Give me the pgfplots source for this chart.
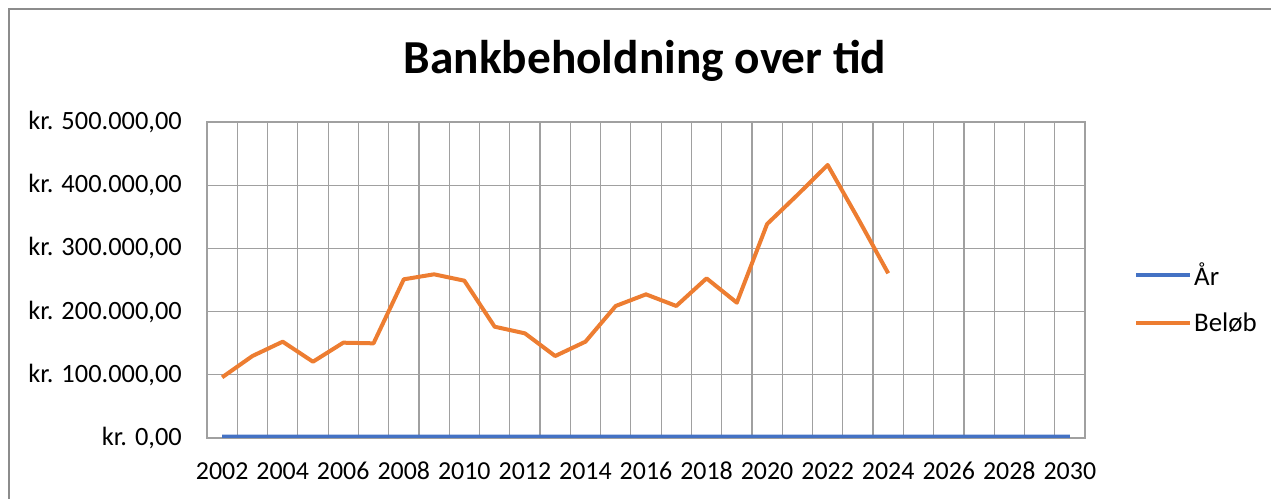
\documentclass[border=0pt]{standalone}
\usepackage{pgfplots}
\pgfplotsset{compat=1.18}
\usepackage{fontspec}
\setmainfont{Carlito}
\definecolor{exblue}{HTML}{4472C4}
\definecolor{exorange}{HTML}{ED7D31}
\definecolor{gridgray}{RGB}{160,160,160}
\definecolor{bordergray}{RGB}{140,140,140}
\begin{document}
\begin{tikzpicture}
\useasboundingbox (0,0) rectangle (1271bp,499bp);
\draw[bordergray, line width=1.3bp] (9bp,0) -- (9bp,490bp) -- (1271bp,490bp);
\node[anchor=base, font=\bfseries\fontsize{47.5}{52}\selectfont] at (645bp,425bp) {Bankbeholdning over tid};
\begin{axis}[
  at={(207bp,61bp)}, anchor=south west,
  scale only axis, width=878bp, height=316bp,
  xmin=2001.5, xmax=2030.5,
  ymin=0, ymax=500000,
  scaled y ticks=false,
  xtick={2002,2004,...,2030},
  xticklabels={2002,2004,2006,2008,2010,2012,2014,2016,2018,2020,2022,2024,2026,2028,2030},
  minor xtick={2001.5,2002.5,...,2030.5},
  xminorgrids=true, ymajorgrids=true, xmajorgrids=false,
  ytick={0,100000,200000,300000,400000,500000},
  yticklabels={{kr. 0,00},{kr. 100.000,00},{kr. 200.000,00},{kr. 300.000,00},{kr. 400.000,00},{kr. 500.000,00}},
  major tick length=0pt, minor tick length=0pt,
  tick label style={inner sep=0pt},
  yticklabel style={font=\fontsize{26.5}{30}\selectfont, anchor=east, xshift=-25bp},
  xticklabel style={font=\fontsize{26}{30}\selectfont, anchor=north, yshift=-24bp},
  axis line style={gridgray, line width=1.2bp},
  grid style={gridgray, line width=1.2bp},
  minor grid style={gridgray, line width=1.2bp},
  legend style={at={(1.0558,0.443)}, anchor=west, draw=none, fill=none, inner sep=0pt,
    font=\fontsize{27}{30}\selectfont, row sep=22bp,
    legend cell align=left},
  legend image code/.code={\draw[#1, line width=4bp] (0bp,0bp) -- (54bp,0bp);},
]
\addplot[exblue, line width=4bp] coordinates {
(2002,2002) (2003,2003) (2004,2004) (2005,2005) (2006,2006) (2007,2007) (2008,2008) (2009,2009) (2010,2010) (2011,2011)
(2012,2012) (2013,2013) (2014,2014) (2015,2015) (2016,2016) (2017,2017) (2018,2018) (2019,2019) (2020,2020) (2021,2021)
(2022,2022) (2023,2023) (2024,2024) (2025,2025) (2026,2026) (2027,2027) (2028,2028) (2029,2029) (2030,2030)};
\addlegendentry{År}
\addplot[exorange, line width=4bp, line join=round] coordinates {
(2002,96000) (2003,129700) (2004,152400) (2005,120700) (2006,150800) (2007,149800) (2008,251100) (2009,259000)
(2010,248900) (2011,176100) (2012,165600) (2013,129700) (2014,152400) (2015,208900) (2016,227300) (2017,208900)
(2018,252600) (2019,214100) (2020,338600) (2021,384500) (2022,432000) (2023,347600) (2024,260600)};
\addlegendentry{Beløb}
\end{axis}
\end{tikzpicture}
\end{document}
